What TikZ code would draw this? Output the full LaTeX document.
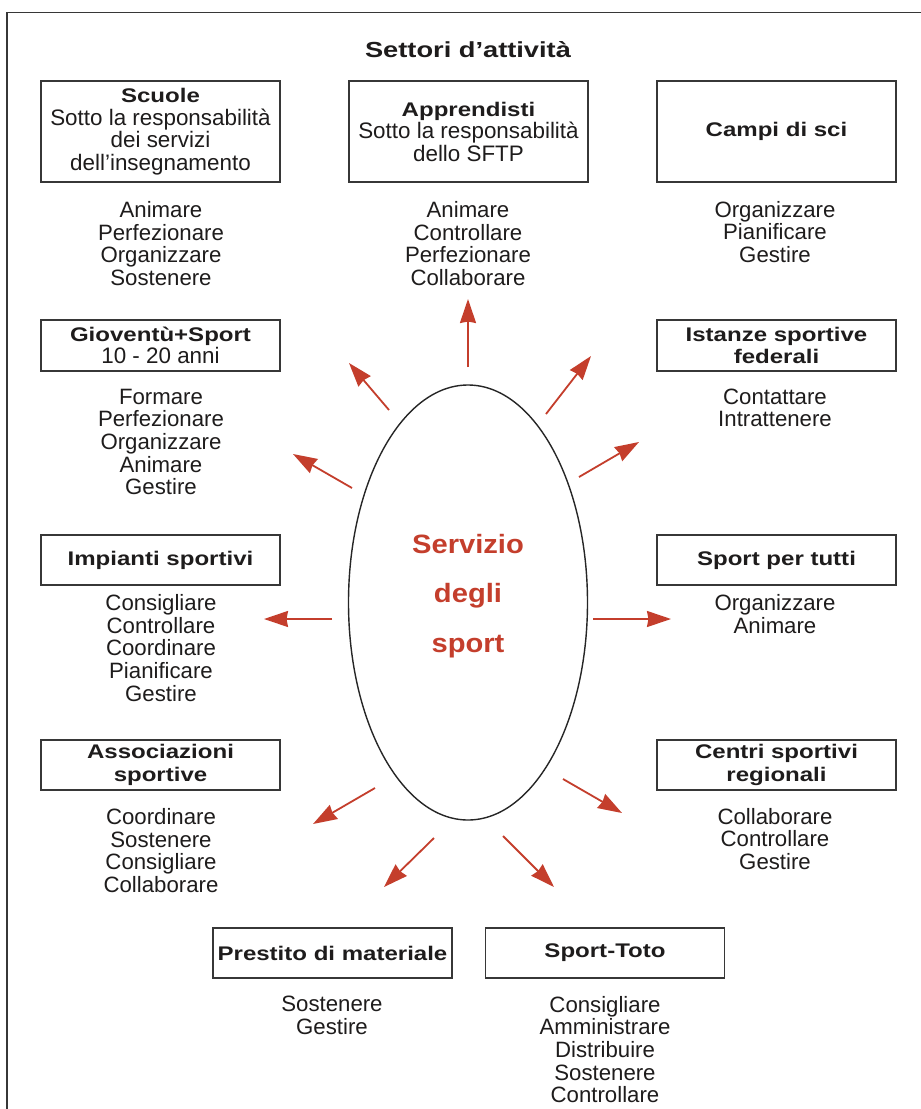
\documentclass[tikz,border=0pt]{standalone}
\usepackage{fontspec}
\setmainfont{Liberation Sans}
\newfontfamily\labfont{Liberation Sans}[FakeStretch=1.22]
\newfontfamily\titfont{Liberation Sans}[FakeStretch=1.25]
\newfontfamily\redfont{Liberation Sans}[FakeStretch=1.1]
\usetikzlibrary{arrows.meta,shapes.geometric}
\definecolor{sred}{RGB}{196,62,44}
\definecolor{txt}{RGB}{30,28,28}
\definecolor{boxgray}{RGB}{55,55,55}
\newcommand\boxlab[1]{{\labfont\bfseries\fontsize{19.7}{22.5}\selectfont #1}}
\tikzset{
  box/.style={draw=boxgray, line width=1.6pt, minimum width=239pt, inner sep=0pt,
    align=center, text=txt, font=\fontsize{22.4}{22.5}\selectfont},
  verbs/.style={align=center, text=txt, inner sep=0pt, font=\fontsize{22.2}{22.6}\selectfont},
  ray/.style={draw=sred, line width=1.8pt, -{Stealth[length=24pt,width=16pt,inset=1.5pt]}},
  redtext/.style={text=sred, inner sep=0pt, anchor=base, font=\redfont\bfseries\fontsize{26.5}{30}\selectfont},
}
\begin{document}
\begin{tikzpicture}[x=1pt,y=-1pt]
\useasboundingbox (0,0) rectangle (921,1109);
\clip (0,0) rectangle (921,1109);
\fill[white] (0,0) rectangle (921,1109);
\draw[boxgray, line width=1.5pt] (7,1120) -- (7,12.5) -- (930,12.5);

\node[text=txt, inner sep=0pt, font=\titfont\bfseries\fontsize{21.8}{24}\selectfont] (title) at (468,50) {Settori d’attività};

% boxes
\node[box, minimum height=101pt] (b1) at (160.5,131.5) {\boxlab{Scuole}\\Sotto la responsabilità\\dei servizi\\dell’insegnamento};
\node[box, minimum height=101pt] (b2) at (468.5,131.5) {\boxlab{Apprendisti}\\Sotto la responsabilità\\dello SFTP};
\node[box, minimum height=101pt] (b3) at (776.5,131.5) {\boxlab{Campi di sci}};
\node[box, minimum height=51pt] (b4) at (160.5,345.5) {\boxlab{Gioventù+Sport}\\10 - 20 anni};
\node[box, minimum height=51pt] (b5) at (776.5,345.5) {\boxlab{Istanze sportive}\\\boxlab{federali}};
\node[box, minimum height=50pt] (b6) at (160.5,560) {\boxlab{Impianti sportivi}};
\node[box, minimum height=50pt] (b7) at (776.5,560) {\boxlab{Sport per tutti}};
\node[box, minimum height=50pt] (b8) at (160.5,765) {\boxlab{Associazioni}\\\boxlab{sportive}};
\node[box, minimum height=50pt] (b9) at (776.5,765) {\boxlab{Centri sportivi}\\\boxlab{regionali}};
\node[box, minimum height=50pt] (b10) at (332.5,953) {\boxlab{Prestito di materiale}};
\node[box, minimum height=50pt] (b11) at (605,953) {\boxlab{Sport-Toto}};

% verb lists
\node[verbs] (l1) at (161,243.5) {Animare\\Perfezionare\\Organizzare\\Sostenere};
\node[verbs] (l2) at (468,243.5) {Animare\\Controllare\\Perfezionare\\Collaborare};
\node[verbs] (l3) at (775,232) {Organizzare\\Pianificare\\Gestire};
\node[verbs] (l4) at (161,442) {Formare\\Perfezionare\\Organizzare\\Animare\\Gestire};
\node[verbs] (l5) at (775,408) {Contattare\\Intrattenere};
\node[verbs] (l6) at (161,648) {Consigliare\\Controllare\\Coordinare\\Pianificare\\Gestire};
\node[verbs] (l7) at (775,614) {Organizzare\\Animare};
\node[verbs] (l8) at (161,850.5) {Coordinare\\Sostenere\\Consigliare\\Collaborare};
\node[verbs] (l9) at (775,839) {Collaborare\\Controllare\\Gestire};
\node[verbs] (l10) at (332,1015.5) {Sostenere\\Gestire};
\node[verbs] (l11) at (605,1049.5) {Consigliare\\Amministrare\\Distribuire\\Sostenere\\Controllare};

% centre
\node[draw=black!85, line width=1.4pt, ellipse, minimum width=239pt, minimum height=435pt, inner sep=0pt] (core) at (468,602.5) {};
\node[redtext] (r1) at (468,553) {Servizio};
\node[redtext] (r2) at (468,602) {degli};
\node[redtext] (r3) at (468,652) {sport};

% rays
\coordinate (t1) at (468,367);  \coordinate (h1) at (468,299);
\coordinate (t2) at (389,410);  \coordinate (h2) at (349,363);
\coordinate (t3) at (546,414);  \coordinate (h3) at (591,356);
\coordinate (t4) at (352,488);  \coordinate (h4) at (293,454);
\coordinate (t5) at (579,477);  \coordinate (h5) at (639,442);
\coordinate (t6) at (332,619);  \coordinate (h6) at (264,619);
\coordinate (t7) at (593,619);  \coordinate (h7) at (671,619);
\coordinate (t8) at (375,788);  \coordinate (h8) at (313,824);
\coordinate (t9) at (563,779);  \coordinate (h9) at (622,813);
\coordinate (t10) at (434,838); \coordinate (h10) at (384,887);
\coordinate (t11) at (503,836); \coordinate (h11) at (554,887);
\foreach \i in {1,...,11} { \draw[ray] (t\i) -- (h\i); }
\end{tikzpicture}
\end{document}
